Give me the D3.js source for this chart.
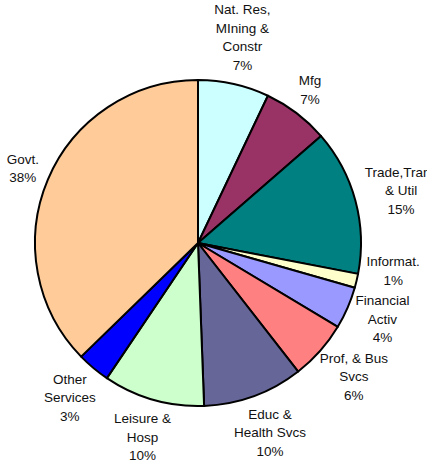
<!DOCTYPE html>
<html><head><meta charset="utf-8">
<script src="https://cdn.jsdelivr.net/npm/d3@7"></script>
<style>body{margin:0;background:#fff;}svg{display:block;}</style>
</head><body>
<script>
const categories = ["Nat. Res,\nMIning &\nConstr", "Mfg", "Trade,Trans\n& Util", "Informat.", "Financial\nActiv", "Prof, & Bus\nSvcs", "Educ &\nHealth Svcs", "Leisure &\nHosp", "Other\nServices", "Govt."];
const values = [7.1, 6.6, 14.5, 1.4, 4.2, 5.9, 10.0, 10.1, 3.3, 37.5];
const colors = ["#CCFFFF", "#993366", "#008080", "#FFFFCC", "#9999FF", "#FF8080", "#666699", "#CCFFCC", "#0000FF", "#FFCC99"];

const W = 427, H = 465, cx = 198, cy = 243, R = 163;
const fontSize = 13.5, lh = 18.5, gap = 11, pad = 2;

const svg = d3.select("body").append("svg").attr("width", W).attr("height", H);
const g = svg.append("g").attr("transform", `translate(${cx},${cy})`);

const pie = d3.pie().value(d => d.v).sort(null);
const data = categories.map((c, i) => ({c, v: values[i], col: colors[i]}));
const arcs = pie(data);
const arc = d3.arc().innerRadius(0).outerRadius(R);

g.selectAll("path").data(arcs).join("path")
  .attr("d", arc).attr("fill", d => d.data.col)
  .attr("stroke", "#000").attr("stroke-width", 2).attr("stroke-linejoin", "round");

// labels
const meas = svg.append("text").attr("font-family", "Liberation Sans, Arial, sans-serif").attr("font-size", fontSize);
const labels = arcs.map(a => {
  const lines = a.data.c.split("\n").concat([Math.round(a.data.v) + "%"]);
  let w = 0;
  lines.forEach(l => { meas.text(l); w = Math.max(w, meas.node().getComputedTextLength()); });
  const h = lines.length * lh;
  const mid = (a.startAngle + a.endAngle) / 2;
  const ux = Math.sin(mid), uy = -Math.cos(mid);
  return {lines, w, h, x: (R + gap) * ux + ux * w / 2, y: (R + gap) * uy + uy * h / 2, right: ux >= 0};
});
meas.remove();

// simple overlap resolution on the right side (push upper label up)
const rightSide = labels.filter(l => l.right).sort((a, b) => b.y - a.y);
for (let i = 1; i < rightSide.length; i++) {
  const lower = rightSide[i - 1], upper = rightSide[i];
  const overlapX = Math.abs(lower.x - upper.x) < (lower.w + upper.w) / 2;
  if (overlapX && upper.y + upper.h / 2 + pad > lower.y - lower.h / 2) {
    upper.y = lower.y - lower.h / 2 - upper.h / 2 - pad;
  }
}

const lg = g.selectAll("g.lab").data(labels).join("g").attr("class", "lab");
lg.each(function(d) {
  const t = d3.select(this).append("text")
    .attr("font-family", "Liberation Sans, Arial, sans-serif").attr("font-size", fontSize)
    .attr("fill", "#111").attr("text-anchor", "middle");
  d.lines.forEach((l, i) => {
    t.append("tspan").attr("x", d.x).attr("y", d.y + (i - (d.lines.length - 1) / 2) * lh)
      .attr("dy", "0.35em").text(l);
  });
});
</script>
</body></html>
